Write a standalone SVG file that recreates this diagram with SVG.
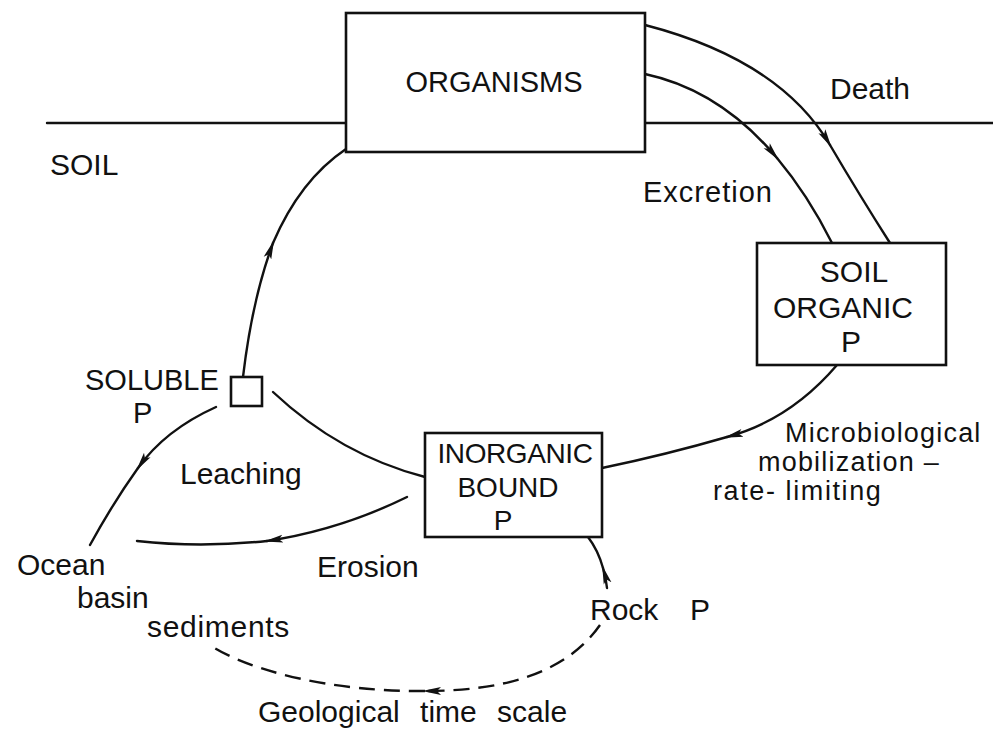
<svg xmlns="http://www.w3.org/2000/svg" width="993" height="731" viewBox="0 0 993 731">
  <defs>
    <style>
      .box { fill: #fff; stroke: #111; stroke-width: 2.6; }
      .line { fill: none; stroke: #111; stroke-width: 2.4; stroke-linecap: round; }
      .dash { fill: none; stroke: #111; stroke-width: 2.4; stroke-dasharray: 16 9; }
      .t { font-family: "Liberation Sans", Arial, sans-serif; font-size: 30px; fill: #111; }
      .c { text-anchor: middle; }
    </style>
    <marker id="arr" markerUnits="userSpaceOnUse" markerWidth="20" markerHeight="10" refX="16" refY="5" orient="auto" viewBox="0 0 20 10">
      <path d="M0,1 L19,5 L0,9 L4,5 Z" fill="#111"/>
    </marker>
  </defs>
  <rect width="993" height="731" fill="#fff"/>

  <g id="soil-surface">
    <path class="line" d="M47,123 H346 M645,123 H993"/>
    <text class="t" x="50" y="175">SOIL</text>
  </g>

  <g id="connectors">
    <!-- uptake: soluble P to organisms -->
    <path class="line" d="M243,377 Q252,300 273,243" marker-end="url(#arr)"/>
    <path class="line" d="M273,243 Q300,180 346,149 L368,134"/>
    <!-- death -->
    <path class="line" d="M645,25 Q780,60 830,145" marker-end="url(#arr)"/>
    <path class="line" d="M830,145 Q860,196 890,243"/>
    <!-- excretion -->
    <path class="line" d="M645,74 Q720,90 777,158" marker-end="url(#arr)"/>
    <path class="line" d="M777,158 Q808,195 832,243"/>
    <!-- microbiological mobilization -->
    <path class="line" d="M837,365 Q790,420 727,437" marker-end="url(#arr)"/>
    <path class="line" d="M727,437 Q665,455 602,468"/>
    <!-- inorganic bound to soluble -->
    <path class="line" d="M273,392 Q340,455 425,477"/>
    <!-- leaching -->
    <path class="line" d="M216,407 Q165,430 138,468" marker-end="url(#arr)"/>
    <path class="line" d="M138,468 Q113,503 90,545"/>
    <!-- erosion -->
    <path class="line" d="M407,497 Q340,530 267,541" marker-end="url(#arr)"/>
    <path class="line" d="M267,541 Q200,548 137,541"/>
    <!-- rock to inorganic -->
    <path class="line" d="M607,588 Q606,578 603,568" marker-end="url(#arr)"/>
    <path class="line" d="M603,568 Q598,550 588,537"/>
    <!-- geological time scale -->
    <path class="dash" d="M600,625 C565,675 500,691 425,691" marker-end="url(#arr)"/>
    <path class="dash" d="M425,691 C330,692 250,670 213,647"/>

    <text class="t" x="830" y="99">Death</text>
    <text class="t" x="643" y="202" style="font-size:29px;letter-spacing:1px">Excretion</text>
    <text class="t" x="785" y="442" style="font-size:27px;letter-spacing:1.2px">Microbiological</text>
    <text class="t" x="758" y="471" style="font-size:27px;letter-spacing:1.2px">mobilization –</text>
    <text class="t" x="713" y="500" style="font-size:27px;letter-spacing:1.6px">rate- limiting</text>
    <text class="t" x="180" y="484">Leaching</text>
    <text class="t" x="317" y="577">Erosion</text>
    <text class="t" x="258" y="722" style="word-spacing:12px">Geological time scale</text>
  </g>

  <g id="organisms">
    <rect class="box" x="346" y="13" width="299" height="139"/>
    <text class="t c" x="494" y="92" style="font-size:29px">ORGANISMS</text>
  </g>

  <g id="soil-organic-p">
    <rect class="box" x="757" y="243" width="189" height="122"/>
    <text class="t c" x="854" y="282">SOIL</text>
    <text class="t c" x="843" y="318">ORGANIC</text>
    <text class="t c" x="851" y="352">P</text>
  </g>

  <g id="inorganic-bound-p">
    <rect class="box" x="425" y="433" width="177" height="104"/>
    <text class="t c" x="515" y="463" style="font-size:28px;letter-spacing:-0.4px">INORGANIC</text>
    <text class="t c" x="508" y="497" style="font-size:28px">BOUND</text>
    <text class="t c" x="503" y="530" style="font-size:28px">P</text>
  </g>

  <g id="soluble-p">
    <rect class="box" x="231" y="377" width="31" height="29"/>
    <text class="t" x="85" y="390" style="font-size:29px">SOLUBLE</text>
    <text class="t" x="133" y="423" style="font-size:29px">P</text>
  </g>

  <g id="ocean-basin-sediments">
    <text class="t" x="17" y="575">Ocean</text>
    <text class="t" x="77" y="608">basin</text>
    <text class="t" x="147" y="637" style="letter-spacing:0.7px">sediments</text>
  </g>

  <g id="rock-p">
    <text class="t" x="590" y="620">Rock</text>
    <text class="t" x="690" y="620">P</text>
  </g>
</svg>
